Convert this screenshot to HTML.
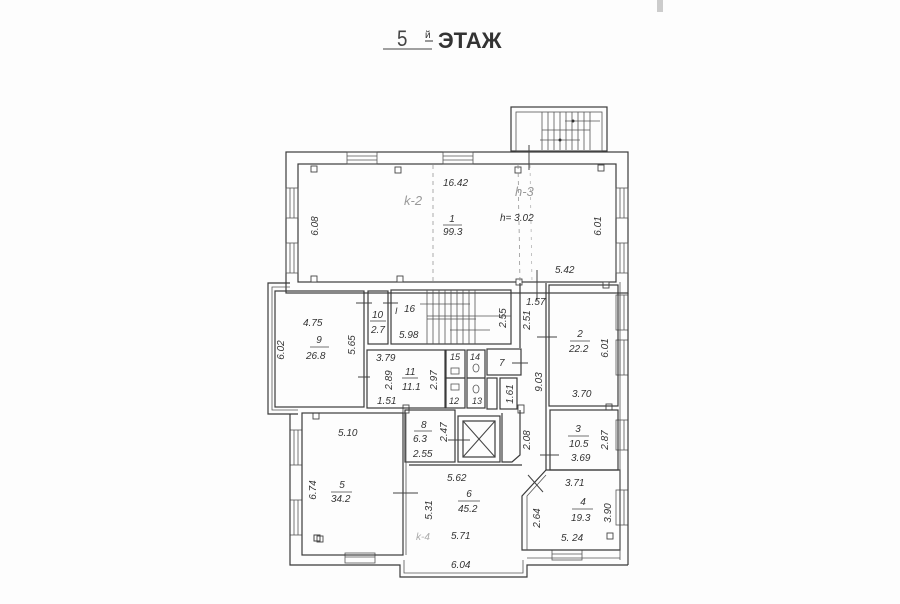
<!DOCTYPE html>
<html><head><meta charset="utf-8"><style>
html,body{margin:0;padding:0;background:#fff}
svg{display:block}
text{font-family:"Liberation Sans","DejaVu Sans",sans-serif;fill:#333;font-style:italic;font-size:10px}
.w{fill:none;stroke:#3a3a3a;stroke-width:1.2}
.t{fill:none;stroke:#555;stroke-width:0.8}
</style></head><body>
<svg width="900" height="604" viewBox="0 0 900 604" xmlns="http://www.w3.org/2000/svg">
<rect width="900" height="604" fill="#fdfdfd"/>
<line x1="660" y1="0" x2="660" y2="12" stroke="#ccc" stroke-width="6"/>
<!-- title -->
<text x="397" y="46" style="font-size:22px;font-style:normal;fill:#444" transform="translate(397,0) scale(0.85,1) translate(-397,0)">5</text>
<line x1="383" y1="49" x2="432" y2="49" stroke="#444" stroke-width="1"/>
<text x="425" y="38" style="font-size:10px;font-style:normal;fill:#333">й</text>
<line x1="425" y1="41" x2="433" y2="41" stroke="#333"/>
<text x="438" y="48" style="font-size:22px;font-style:normal;font-weight:bold;fill:#333">ЭТАЖ</text>

<!-- top stair box -->
<rect class="w" x="511" y="107" width="96" height="44"/>
<rect class="t" x="516" y="112" width="86" height="39"/>
<g class="t"><line x1="542" y1="112" x2="542" y2="150"/><line x1="548" y1="112" x2="548" y2="150"/><line x1="554" y1="112" x2="554" y2="150"/><line x1="560" y1="112" x2="560" y2="150"/><line x1="566" y1="112" x2="566" y2="150"/><line x1="572" y1="112" x2="572" y2="150"/><line x1="578" y1="112" x2="578" y2="150"/><line x1="584" y1="112" x2="584" y2="150"/><line x1="590" y1="112" x2="590" y2="150"/><line x1="542" y1="130" x2="590" y2="130"/><line x1="540" y1="140" x2="580" y2="140"/><line x1="565" y1="121" x2="600" y2="121"/></g>
<circle cx="573" cy="121" r="1.5" fill="#333"/><circle cx="560" cy="140" r="1.5" fill="#333"/>

<!-- main top block -->
<rect class="w" x="286" y="152" width="342" height="141"/>
<rect class="w" x="298" y="164" width="318" height="118"/>
<g class="t"><rect x="347" y="152" width="30" height="12"/><line x1="347" y1="156" x2="377" y2="156"/><line x1="347" y1="160" x2="377" y2="160"/>
<rect x="443" y="152" width="30" height="12"/><line x1="443" y1="156" x2="473" y2="156"/><line x1="443" y1="160" x2="473" y2="160"/>
<rect x="286" y="188" width="12" height="30"/><line x1="290" y1="188" x2="290" y2="218"/><line x1="294" y1="188" x2="294" y2="218"/>
<rect x="286" y="243" width="12" height="30"/><line x1="290" y1="243" x2="290" y2="273"/><line x1="294" y1="243" x2="294" y2="273"/>
<rect x="616" y="188" width="12" height="30"/><line x1="620" y1="188" x2="620" y2="218"/><line x1="624" y1="188" x2="624" y2="218"/>
<rect x="616" y="243" width="12" height="30"/><line x1="620" y1="243" x2="620" y2="273"/><line x1="624" y1="243" x2="624" y2="273"/>
<rect x="616" y="295" width="12" height="35"/><line x1="620" y1="295" x2="620" y2="330"/><line x1="624" y1="295" x2="624" y2="330"/>
<rect x="616" y="340" width="12" height="35"/><line x1="620" y1="340" x2="620" y2="375"/><line x1="624" y1="340" x2="624" y2="375"/>
<rect x="616" y="420" width="12" height="30"/><line x1="620" y1="420" x2="620" y2="450"/><line x1="624" y1="420" x2="624" y2="450"/>
<rect x="616" y="490" width="12" height="35"/><line x1="620" y1="490" x2="620" y2="525"/><line x1="624" y1="490" x2="624" y2="525"/>
<rect x="290" y="430" width="12" height="35"/><line x1="294" y1="430" x2="294" y2="465"/><line x1="298" y1="430" x2="298" y2="465"/>
<rect x="290" y="500" width="12" height="35"/><line x1="294" y1="500" x2="294" y2="535"/><line x1="298" y1="500" x2="298" y2="535"/>
<rect x="345" y="553" width="30" height="10"/><line x1="345" y1="557" x2="375" y2="557"/>
<rect x="552" y="550" width="30" height="10"/><line x1="552" y1="554" x2="582" y2="554"/>
</g>
<g fill="#fff" stroke="#444" stroke-width="0.9">
<rect x="311" y="166" width="6" height="6"/><rect x="395" y="167" width="6" height="6"/><rect x="515" y="167" width="6" height="6"/><rect x="598" y="165" width="6" height="6"/>
<rect x="311" y="276" width="6" height="6"/><rect x="397" y="276" width="6" height="6"/><rect x="516" y="279" width="6" height="6"/><rect x="603" y="282" width="6" height="6"/>
<rect x="313" y="413" width="6" height="6"/><rect x="403" y="405" width="6" height="8"/><rect x="518" y="405" width="6" height="8"/><rect x="606" y="404" width="6" height="6"/>
<rect x="317" y="536" width="6" height="6"/><rect x="607" y="533" width="6" height="6"/>
</g>
<line x1="433" y1="165" x2="433" y2="282" stroke="#888" stroke-dasharray="4,4" stroke-width="0.7"/>
<line x1="518" y1="165" x2="520" y2="282" stroke="#888" stroke-dasharray="4,4" stroke-width="0.7"/>
<line x1="530" y1="165" x2="532" y2="282" stroke="#aaa" stroke-dasharray="3,5" stroke-width="0.7"/>
<line x1="529" y1="145" x2="529" y2="170" stroke="#444"/><line x1="537" y1="270" x2="537" y2="300" stroke="#444"/>

<text x="443" y="186">16.42</text>
<text x="404" y="205" style="fill:#999;font-size:13px">k-2</text>
<text x="515" y="196" style="fill:#999;font-size:13px">h-3</text>
<text x="452" y="222" text-anchor="middle">1</text>
<line x1="443" y1="225" x2="462" y2="225" stroke="#444" stroke-width="0.8"/>
<text x="443" y="235">99.3</text>
<text x="500" y="221">h= 3.02</text>
<text x="555" y="273">5.42</text>
<text transform="translate(318,226) rotate(-90)" text-anchor="middle">6.08</text>
<text transform="translate(601,226) rotate(-90)" text-anchor="middle">6.01</text>

<polyline class="w" points="290,283 268,283 268,414 298,414"/>
<polyline class="t" points="290,287 272,287 272,410 298,410"/>
<rect class="w" x="275" y="291" width="89" height="116"/>
<text x="303" y="326">4.75</text>
<text x="319" y="343" text-anchor="middle">9</text>
<line x1="310" y1="347" x2="329" y2="347" stroke="#444" stroke-width="0.8"/>
<text x="306" y="359">26.8</text>
<text transform="translate(284,350) rotate(-90)" text-anchor="middle">6.02</text>
<text transform="translate(355,345) rotate(-90)" text-anchor="middle">5.65</text>
<line x1="358" y1="377" x2="370" y2="377" stroke="#444"/>

<rect class="w" x="368" y="291" width="20" height="53"/>
<text x="372" y="318">10</text><line x1="370" y1="321" x2="386" y2="321" stroke="#444" stroke-width="0.8"/><text x="371" y="333">2.7</text>
<line x1="356" y1="303" x2="372" y2="303" stroke="#444"/><line x1="383" y1="303" x2="398" y2="303" stroke="#444"/>
<rect class="w" x="391" y="290" width="120" height="54"/>
<g class="t"><line x1="427" y1="290" x2="427" y2="344"/><line x1="433" y1="290" x2="433" y2="344"/><line x1="439" y1="290" x2="439" y2="344"/><line x1="445" y1="290" x2="445" y2="344"/><line x1="451" y1="290" x2="451" y2="344"/><line x1="457" y1="290" x2="457" y2="344"/><line x1="463" y1="290" x2="463" y2="344"/><line x1="469" y1="290" x2="469" y2="344"/><line x1="475" y1="290" x2="475" y2="344"/>
<line x1="427" y1="316" x2="511" y2="316"/><line x1="427" y1="319" x2="476" y2="319"/><line x1="420" y1="304" x2="470" y2="304"/><line x1="450" y1="330" x2="490" y2="330"/></g>
<text x="404" y="312">16</text><text x="395" y="314" style="font-size:9px">I</text>
<text x="399" y="338">5.98</text>
<text transform="translate(506,318) rotate(-90)" text-anchor="middle">2.55</text>

<rect class="w" x="367" y="350" width="78" height="58"/>
<text x="376" y="361">3.79</text>
<text x="405" y="375">11</text><line x1="402" y1="378" x2="418" y2="378" stroke="#444" stroke-width="0.8"/><text x="402" y="390">11.1</text>
<text x="377" y="404">1.51</text>
<text transform="translate(392,380) rotate(-90)" text-anchor="middle">2.89</text>
<text transform="translate(437,380) rotate(-90)" text-anchor="middle">2.97</text>
<g class="w"><rect x="446" y="350" width="19" height="58"/><rect x="467" y="350" width="18" height="58"/><line x1="446" y1="378" x2="465" y2="378"/><line x1="467" y1="378" x2="485" y2="378"/></g>
<text x="450" y="360" style="font-size:9px">15</text><text x="470" y="360" style="font-size:9px">14</text>
<text x="449" y="404" style="font-size:9px">12</text><text x="472" y="404" style="font-size:9px">13</text>
<g class="t"><rect x="451" y="368" width="8" height="6"/><rect x="451" y="384" width="8" height="6"/><ellipse cx="476" cy="368" rx="3" ry="4"/><ellipse cx="476" cy="389" rx="3" ry="4"/></g>
<rect class="w" x="487" y="349" width="34" height="26"/>
<text x="499" y="366">7</text><line x1="512" y1="363" x2="528" y2="363" stroke="#444"/>
<rect class="w" x="487" y="378" width="10" height="31"/><rect class="w" x="500" y="378" width="17" height="31"/>
<text transform="translate(513,394) rotate(-90)" text-anchor="middle">1.61</text>

<line x1="520" y1="283" x2="520" y2="348" class="w"/>
<line x1="546" y1="283" x2="546" y2="470" class="w"/>
<text x="526" y="305">1.57</text>
<text transform="translate(530,320) rotate(-90)" text-anchor="middle">2.51</text>
<text transform="translate(542,382) rotate(-90)" text-anchor="middle">9.03</text>
<line x1="537" y1="337" x2="557" y2="337" stroke="#444"/>

<rect class="w" x="549" y="285" width="69" height="121"/>
<text x="580" y="337" text-anchor="middle">2</text><line x1="570" y1="341" x2="590" y2="341" stroke="#444" stroke-width="0.8"/><text x="569" y="352">22.2</text>
<text transform="translate(608,348) rotate(-90)" text-anchor="middle">6.01</text>
<text x="572" y="397">3.70</text>
<rect class="w" x="550" y="410" width="68" height="60"/>
<text x="578" y="432" text-anchor="middle">3</text><line x1="568" y1="436" x2="589" y2="436" stroke="#444" stroke-width="0.8"/><text x="569" y="447">10.5</text>
<text x="571" y="461">3.69</text>
<text transform="translate(608,440) rotate(-90)" text-anchor="middle">2.87</text>
<line x1="540" y1="455" x2="559" y2="455" stroke="#444"/>
<polyline class="w" points="546,470 620,470 620,550 522,550 522,496 546,470"/>
<polyline class="t" points="546,475 527,496 527,550"/>
<line x1="528" y1="475" x2="543" y2="492" stroke="#444"/>
<text x="565" y="486">3.71</text>
<text x="583" y="505" text-anchor="middle">4</text><line x1="572" y1="509" x2="593" y2="509" stroke="#444" stroke-width="0.8"/><text x="571" y="521">19.3</text>
<text x="561" y="541">5. 24</text>
<text transform="translate(540,518) rotate(-90)" text-anchor="middle">2.64</text>
<text transform="translate(611,513) rotate(-90)" text-anchor="middle">3.90</text>

<line x1="628" y1="293" x2="628" y2="565" class="w"/>
<line x1="620" y1="282" x2="620" y2="560" class="t"/>
<polyline class="w" points="628,565 527,565 527,577 400,577 400,565 290,565 290,414"/>
<polyline class="t" points="620,558 527,558"/>
<polyline class="t" points="404,560 404,573 523,573 523,560"/>

<rect class="w" x="405" y="410" width="50" height="52"/>
<text x="421" y="428">8</text><line x1="414" y1="431" x2="432" y2="431" stroke="#444" stroke-width="0.8"/><text x="413" y="442">6.3</text>
<text x="413" y="457">2.55</text>
<text transform="translate(447,432) rotate(-90)" text-anchor="middle">2.47</text>
<line x1="448" y1="440" x2="470" y2="440" stroke="#444"/>
<rect class="w" x="458" y="416" width="42" height="46"/>
<rect class="w" x="463" y="421" width="32" height="36"/>
<line x1="463" y1="421" x2="495" y2="457" stroke="#444"/><line x1="495" y1="421" x2="463" y2="457" stroke="#444"/>
<polyline class="w" points="502,413 502,462 512,462 520,455 520,410"/>
<text transform="translate(530,440) rotate(-90)" text-anchor="middle">2.08</text>

<rect class="w" x="302" y="413" width="101" height="142"/>
<line x1="406" y1="413" x2="406" y2="555" class="t"/>
<text x="338" y="436">5.10</text>
<text x="342" y="488" text-anchor="middle">5</text><line x1="331" y1="492" x2="352" y2="492" stroke="#444" stroke-width="0.8"/><text x="331" y="502">34.2</text>
<text transform="translate(316,490) rotate(-90)" text-anchor="middle">6.74</text>
<line x1="393" y1="493" x2="418" y2="493" stroke="#444"/>
<rect x="314" y="535" width="6" height="6" fill="none" stroke="#444"/>

<polyline class="w" points="409,465 522,465"/>
<text x="447" y="481">5.62</text>
<text x="469" y="497" text-anchor="middle">6</text><line x1="458" y1="501" x2="480" y2="501" stroke="#444" stroke-width="0.8"/><text x="458" y="512">45.2</text>
<text transform="translate(432,510) rotate(-90)" text-anchor="middle">5.31</text>
<text x="416" y="540" style="fill:#aaa">k-4</text>
<text x="451" y="539">5.71</text>
<text x="451" y="568">6.04</text>
</svg>
</body></html>
